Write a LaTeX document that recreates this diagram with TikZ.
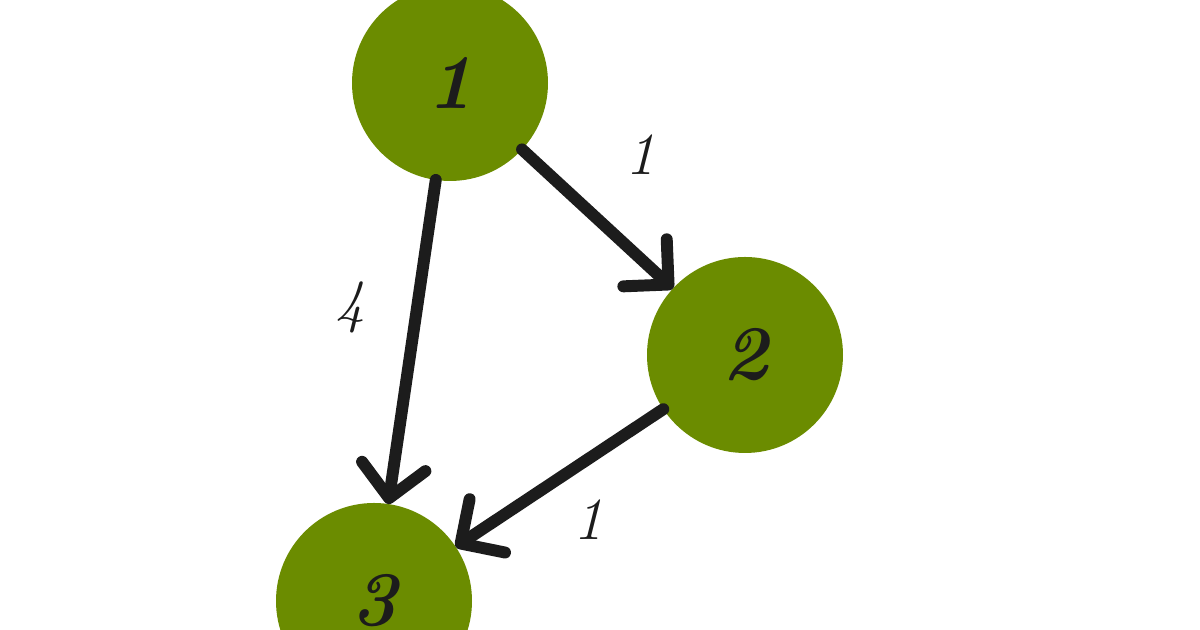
\documentclass[tikz,border=0pt]{standalone}
\usepackage{xcolor}
\usepackage{tikz}
\usetikzlibrary{arrows.meta}

\definecolor{olivenode}{RGB}{107,140,0}
\definecolor{inkblack}{RGB}{28,28,28}

\begin{document}
\begin{tikzpicture}[
    vertex/.style={circle, fill=olivenode, minimum size=1.96cm, inner sep=0pt, outer sep=0pt, text=inkblack, font=\fontsize{22}{24}\selectfont\bfseries\itshape},
    edge/.style={draw=inkblack, line width=3.4pt, line cap=round, line join=round, -{Straight Barb[length=3.2mm, width=6.4mm, line cap=round, line join=round]}},
    weight/.style={text=inkblack, font=\fontsize{17}{19}\selectfont\itshape}
]
\useasboundingbox (0,0) rectangle (12,6.3);
\node[vertex] (v1) at (4.50,5.47) {1};
\node[vertex] (v2) at (7.45,2.75) {2};
\node[vertex] (v3) at (3.74,0.29) {3};

\draw[edge] (v1) -- (v2);
\draw[edge] (v1) -- (v3);
\draw[edge] (v2) -- (v3);

\node[weight] (w12) at (6.40,4.75) {1};
\node[weight] (w13) at (3.50,3.23) {4};
\node[weight] (w23) at (5.88,1.10) {1};
\end{tikzpicture}
\end{document}
